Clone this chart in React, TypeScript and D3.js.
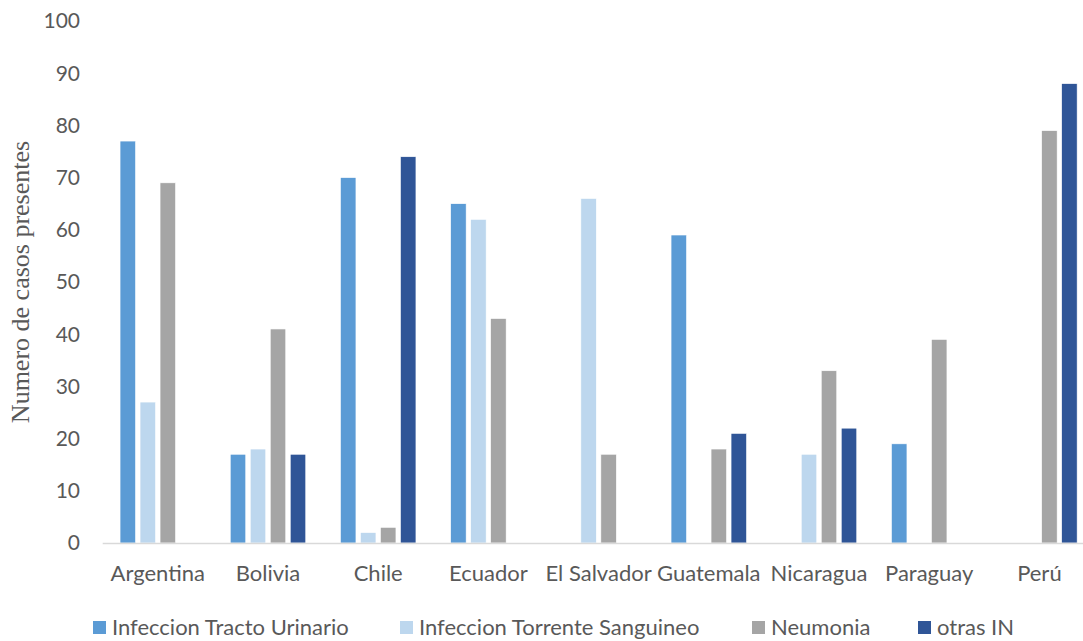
import React from "react";
import * as d3 from "d3";

const categories = ["Argentina", "Bolivia", "Chile", "Ecuador", "El Salvador", "Guatemala", "Nicaragua", "Paraguay", "Perú"];
const seriesNames = ["Infeccion Tracto Urinario", "Infeccion Torrente Sanguineo", "Neumonia", "otras IN"];
const itu = [77, 17, 70, 65, 0, 59, 0, 19, 0];
const its = [27, 18, 2, 62, 66, 0, 17, 0, 0];
const neumonia = [69, 41, 3, 43, 17, 18, 33, 39, 79];
const otras = [0, 17, 74, 0, 0, 21, 22, 0, 88];
const yTicks = [0, 10, 20, 30, 40, 50, 60, 70, 80, 90, 100];
const colors = ["#5B9BD5", "#BDD7EE", "#A5A5A5", "#2F5597"];

const W = 1083, H = 641;
const left = 102.7, step = 110.2, bottom = 543, top = 21;

export default function App() {
  const seriesValues = [itu, its, neumonia, otras];
  const x0 = d3.scaleBand<string>().domain(categories).range([left, left + step * categories.length]).paddingInner(0).paddingOuter(0);
  const x1 = d3.scaleBand<string>().domain(seriesNames).range([0, x0.bandwidth()]).paddingInner(0.225).paddingOuter(0.8675);
  const y = d3.scaleLinear().domain([0, 100]).range([bottom, top]);
  const font = "Lato, 'Open Sans', sans-serif";
  const legendX = [93, 400, 752, 918];
  return (
    <svg width={W} height={H} style={{ position: "absolute", left: 0, top: 0, background: "#fff" }}>
      <rect x={0} y={0} width={W} height={H} fill="#fff" />
      {yTicks.map((t) => (
        <text key={t} x={80} y={y(t)} dy="0.35em" textAnchor="end" fontFamily={font} fontSize={21} fill="#595959">{t}</text>
      ))}
      <text transform={`translate(29,282) rotate(-90)`} textAnchor="middle" fontFamily="'Liberation Serif', 'Times New Roman', serif" fontSize={26} fill="#595959">Numero de casos presentes</text>
      {categories.map((c, i) => (
        <g key={c}>
          {seriesNames.map((s, j) => {
            const v = seriesValues[j][i];
            if (!v) return null;
            return (
              <rect key={s} x={(x0(c) as number) + (x1(s) as number)} y={y(v)} width={x1.bandwidth()} height={y(0) - y(v)} fill={colors[j]} stroke="#fff" strokeWidth={0.6} />
            );
          })}
          <text x={(x0(c) as number) + x0.bandwidth() / 2} y={581} textAnchor="middle" fontFamily={font} fontSize={22} fill="#595959">{c}</text>
        </g>
      ))}
      <line x1={left} x2={W} y1={bottom + 0.5} y2={bottom + 0.5} stroke="#D9D9D9" strokeWidth={1.5} />
      {seriesNames.map((s, j) => (
        <g key={s}>
          <rect x={legendX[j]} y={621} width={13} height={13} fill={colors[j]} />
          <text x={legendX[j] + 19} y={635} fontFamily={font} fontSize={22} fill="#595959">{s}</text>
        </g>
      ))}
    </svg>
  );
}
